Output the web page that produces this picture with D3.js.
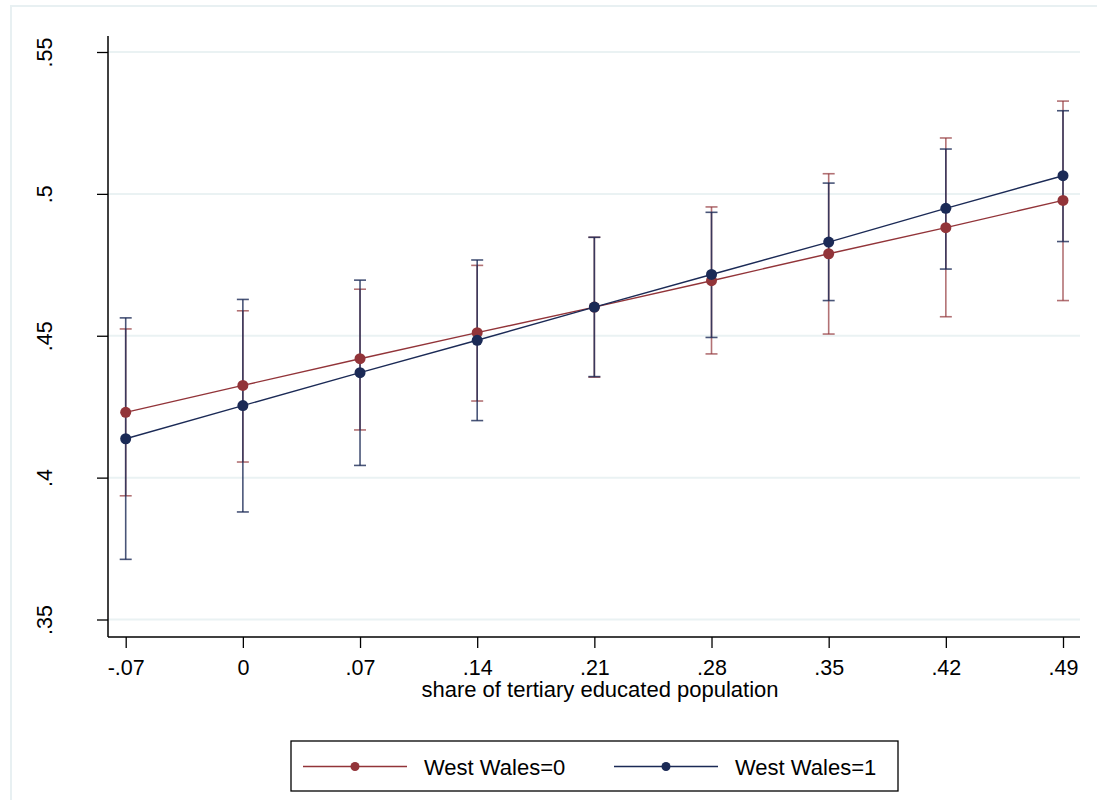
<!DOCTYPE html>
<html>
<head>
<meta charset="utf-8">
<script src="https://cdn.jsdelivr.net/npm/d3@7"></script>
<style>
  body { margin: 0; background: #fff; }
  text { font-family: Arial, "Liberation Sans", sans-serif; fill: #000; }
</style>
</head>
<body>
<div id="chart"></div>
<script>
// Data
let xValues = [-0.07, 0, 0.07, 0.14, 0.21, 0.28, 0.35, 0.42, 0.49];
let xTickLabels = ["-.07", "0", ".07", ".14", ".21", ".28", ".35", ".42", ".49"];
let yTicks = [0.35, 0.4, 0.45, 0.5, 0.55];
let yTickLabels = [".35", ".4", ".45", ".5", ".55"];

// West Wales=0
let ww0 = [0.4230, 0.4325, 0.4419, 0.4511, 0.4601, 0.4694, 0.4789, 0.4881, 0.4977];
let ww0Lo = [0.3936, 0.4055, 0.4168, 0.4270, 0.4354, 0.4436, 0.4506, 0.4567, 0.4624];
let ww0Hi = [0.4524, 0.4588, 0.4664, 0.4748, 0.4847, 0.4954, 0.5071, 0.5197, 0.5327];

// West Wales=1
let ww1 = [0.4137, 0.4254, 0.4370, 0.4484, 0.4601, 0.4716, 0.4830, 0.4949, 0.5064];
let ww1Lo = [0.3712, 0.3879, 0.4043, 0.4201, 0.4356, 0.4494, 0.4624, 0.4735, 0.4832];
let ww1Hi = [0.4563, 0.4628, 0.4696, 0.4767, 0.4847, 0.4935, 0.5038, 0.5158, 0.5293];

let seriesNames = ["West Wales=0", "West Wales=1"];
let colors = ["#923439", "#1b2a56"];

let svgWidth = 1097;
let svgHeight = 800;

// plot region
let plot = { left: 108, right: 1080, top: 36, bottom: 637 };

let svg = d3.select("#chart")
  .append("svg")
  .attr("width", svgWidth)
  .attr("height", svgHeight);

// outer frame of the graph region
svg.append("rect")
  .attr("x", 11)
  .attr("y", 6)
  .attr("width", svgWidth + 20)
  .attr("height", svgHeight + 20)
  .attr("fill", "#fff")
  .attr("stroke", "#e8f0f2")
  .attr("stroke-width", 2);

let xScale = d3.scaleLinear()
  .domain([-0.07, 0.49])
  .range([125.7, 1063]);

let yScale = d3.scaleLinear()
  .domain([0.35, 0.55])
  .range([619.5, 52]);

// gridlines
svg.append("g")
  .selectAll("line")
  .data(yTicks)
  .enter()
  .append("line")
  .attr("x1", plot.left)
  .attr("x2", plot.right)
  .attr("y1", d => yScale(d))
  .attr("y2", d => yScale(d))
  .attr("stroke", "#eaf2f3")
  .attr("stroke-width", 2);

// y axis
let leftAxis = d3.axisLeft(yScale)
  .tickValues(yTicks)
  .tickFormat((d, i) => yTickLabels[i])
  .tickSize(11)
  .tickPadding(0);

let yAxisG = svg.append("g")
  .attr("transform", `translate(${plot.left},0)`)
  .call(leftAxis);
yAxisG.select(".domain").remove();
yAxisG.selectAll("line").attr("stroke", "#000").attr("stroke-width", 1.3);
yAxisG.selectAll("text")
  .attr("x", null)
  .attr("dy", null)
  .attr("transform", "translate(-56,0) rotate(-90)")
  .attr("text-anchor", "middle")
  .style("font-size", "21.5px")
  .style("font-family", "Arial, 'Liberation Sans', sans-serif");

svg.append("line")
  .attr("x1", plot.left).attr("x2", plot.left)
  .attr("y1", plot.top).attr("y2", plot.bottom)
  .attr("stroke", "#000").attr("stroke-width", 1.5);

// x axis
let bottomAxis = d3.axisBottom(xScale)
  .tickValues(xValues)
  .tickFormat((d, i) => xTickLabels[i])
  .tickSize(11)
  .tickPadding(0);

let xAxisG = svg.append("g")
  .attr("transform", `translate(0,${plot.bottom})`)
  .call(bottomAxis);
xAxisG.select(".domain").remove();
xAxisG.selectAll("line").attr("stroke", "#000").attr("stroke-width", 1.3);
xAxisG.selectAll("text")
  .attr("y", 38)
  .attr("dy", null)
  .style("font-size", "21.5px")
  .style("font-family", "Arial, 'Liberation Sans', sans-serif");

svg.append("line")
  .attr("x1", plot.left).attr("x2", plot.right)
  .attr("y1", plot.bottom).attr("y2", plot.bottom)
  .attr("stroke", "#000").attr("stroke-width", 1.5);

// x axis title
svg.append("text")
  .attr("x", 600)
  .attr("y", 697)
  .attr("text-anchor", "middle")
  .style("font-size", "22px")
  .text("share of tertiary educated population");

// build series
let series = [
  { name: seriesNames[0], color: colors[0], ciOpacity: 0.7,
    pts: xValues.map((x, i) => ({ x: x, y: ww0[i], lo: ww0Lo[i], hi: ww0Hi[i] })) },
  { name: seriesNames[1], color: colors[1], ciOpacity: 0.8,
    pts: xValues.map((x, i) => ({ x: x, y: ww1[i], lo: ww1Lo[i], hi: ww1Hi[i] })) }
];

let capW = 6;

// error bars
series.forEach(s => {
  let g = svg.append("g")
    .attr("stroke", s.color)
    .attr("stroke-opacity", s.ciOpacity)
    .attr("stroke-width", 1.6)
    .attr("fill", "none");
  g.selectAll(".stem")
    .data(s.pts)
    .enter()
    .append("line")
    .attr("x1", d => xScale(d.x)).attr("x2", d => xScale(d.x))
    .attr("y1", d => yScale(d.lo)).attr("y2", d => yScale(d.hi));
  g.selectAll(".capHi")
    .data(s.pts)
    .enter()
    .append("line")
    .attr("x1", d => xScale(d.x) - capW).attr("x2", d => xScale(d.x) + capW)
    .attr("y1", d => yScale(d.hi)).attr("y2", d => yScale(d.hi));
  g.selectAll(".capLo")
    .data(s.pts)
    .enter()
    .append("line")
    .attr("x1", d => xScale(d.x) - capW).attr("x2", d => xScale(d.x) + capW)
    .attr("y1", d => yScale(d.lo)).attr("y2", d => yScale(d.lo));
});

// lines and markers
let line = d3.line()
  .x(d => xScale(d.x))
  .y(d => yScale(d.y));

series.forEach(s => {
  svg.append("path")
    .datum(s.pts)
    .attr("d", line)
    .attr("fill", "none")
    .attr("stroke", s.color)
    .attr("stroke-width", 1.4);
  svg.append("g")
    .selectAll("circle")
    .data(s.pts)
    .enter()
    .append("circle")
    .attr("cx", d => xScale(d.x))
    .attr("cy", d => yScale(d.y))
    .attr("r", 5.5)
    .attr("fill", s.color);
});

// legend
let legend = svg.append("g");
legend.append("rect")
  .attr("x", 291)
  .attr("y", 741)
  .attr("width", 607)
  .attr("height", 50)
  .attr("fill", "#fff")
  .attr("stroke", "#000")
  .attr("stroke-width", 1.3);

let legendX = [303, 614];
series.forEach((s, i) => {
  let lx = legendX[i];
  legend.append("line")
    .attr("x1", lx).attr("x2", lx + 104)
    .attr("y1", 766.5).attr("y2", 766.5)
    .attr("stroke", s.color)
    .attr("stroke-width", 1.3);
  legend.append("circle")
    .attr("cx", lx + 52)
    .attr("cy", 766.5)
    .attr("r", 4.5)
    .attr("fill", s.color);
  legend.append("text")
    .attr("x", lx + 121)
    .attr("y", 775)
    .style("font-size", "22px")
    .text(s.name);
});
</script>
</body>
</html>
